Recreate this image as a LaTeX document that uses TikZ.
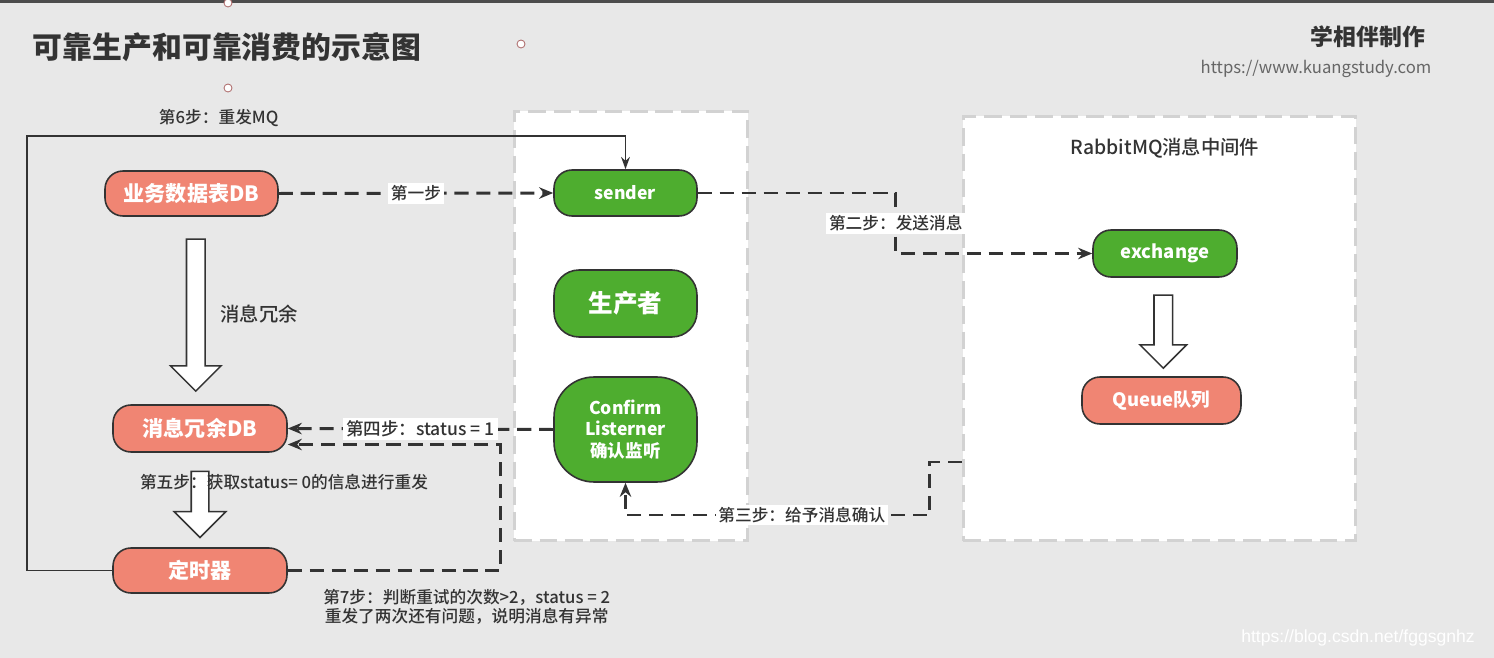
\documentclass[tikz,border=0pt]{standalone}
\usepackage{fontspec}
\setmainfont{Noto Sans CJK SC}
\newfontfamily\medfont{Noto Sans CJK SC Medium}
\newfontfamily\wmfont{Liberation Sans}
\usetikzlibrary{arrows.meta,positioning,shapes.arrows,calc}
\definecolor{bgc}{HTML}{E8E8E8}
\definecolor{salmon}{HTML}{F08573}
\definecolor{grn}{HTML}{4EAD2F}
\definecolor{edge}{HTML}{333333}
\definecolor{boxline}{HTML}{D2D2D2}
\definecolor{handle}{HTML}{B07070}

\begin{document}
\begin{tikzpicture}[x=0.02cm,y=-0.02cm,>=Stealth,
  nd/.style={draw=edge,line width=0.9pt,text=white,inner sep=0pt,align=center,
    rounded corners=0.36cm,font=\bfseries\fontsize{10}{12}\selectfont},
  pnode/.style={nd,fill=salmon},
  gnode/.style={nd,fill=grn},
  grp/.style={draw=boxline,fill=white,line width=1.7pt,dash pattern=on 10pt off 4.5pt},
  dline/.style={draw=edge,line width=1.7pt,dash pattern=on 8pt off 4.5pt,-{Stealth[length=8pt,width=6.5pt]}},
  sline/.style={draw=edge,line width=0.9pt,-{Stealth[length=7pt,width=5pt]}},
  lbl/.style={font=\medfont\fontsize{9.5}{11}\selectfont,text=edge,inner sep=1.5pt},
  fat/.style={single arrow,draw=edge,fill=white,line width=0.9pt,shape border rotate=270,inner sep=0.17cm}]
  % canvas
  \useasboundingbox (0,0) rectangle (1494,658);
  \fill[bgc] (0,0) rectangle (1494,658);
  \fill[black!70] (0,0) rectangle (1494,3);
  \foreach \hx/\hy in {228/3,521/44,228/88}
    \draw[handle,fill=white,line width=0.5pt] (\hx,\hy) circle (4);

  % headings
  \node[font=\bfseries\fontsize{17}{20}\selectfont,text=edge] (title) at (227,47) {可靠生产和可靠消费的示意图};
  \node[font=\bfseries\fontsize{13}{15}\selectfont,text=edge] (maker) at (1368,37) {学相伴制作};
  \node[font=\fontsize{9.5}{11}\selectfont,text=black!60] (site) at (1316,69) {https://www.kuangstudy.com};

  % groups
  \node[grp,minimum width=4.68cm,minimum height=8.6cm] (prodbox) at (631,326) {};
  \node[grp,minimum width=7.86cm,minimum height=8.5cm] (mqbox) at (1159.5,328.5) {};
  \node[font=\medfont\fontsize{11}{13}\selectfont,text=edge] (mqname) at (1165,148) {RabbitMQ消息中间件};

  % nodes
  \node[pnode,minimum width=3.46cm,minimum height=0.9cm,font=\bfseries\fontsize{12}{14}\selectfont] (bizdb) at (191.5,193.5) {业务数据表DB};
  \node[pnode,minimum width=3.48cm,minimum height=0.94cm,font=\bfseries\fontsize{12}{14}\selectfont] (redundb) at (200,428.5) {消息冗余DB};
  \node[pnode,minimum width=3.48cm,minimum height=0.9cm,font=\bfseries\fontsize{12}{14}\selectfont] (timer) at (200,570.5) {定时器};
  \node[gnode,minimum width=2.86cm,minimum height=0.92cm] (sender) at (625.5,193) {sender};
  \node[gnode,minimum width=2.86cm,minimum height=1.34cm,rounded corners=0.5cm,font=\bfseries\fontsize{14}{16}\selectfont] (producer) at (625.5,303.5) {生产者};
  \node[gnode,minimum width=2.86cm,minimum height=2.1cm,rounded corners=0.8cm,font=\bfseries\fontsize{10}{12.2}\selectfont] (confirm) at (625.5,429.5) {Confirm\\Listerner\\确认监听};
  \node[gnode,minimum width=2.88cm,minimum height=0.94cm,font=\bfseries\fontsize{10.5}{12}\selectfont] (exchange) at (1165,253.5) {exchange};
  \node[pnode,minimum width=3.18cm,minimum height=0.94cm,font=\bfseries\fontsize{10.5}{12}\selectfont] (queue) at (1161.5,400.5) {Queue队列};

  % block arrows
  \node[fat,minimum height=3.04cm,minimum width=1cm,single arrow head extend=0.32cm] (fat1) at ($(bizdb.south)!0.5!(redundb.north)$) {};
  \node[fat,minimum height=1.32cm,minimum width=1cm,single arrow head extend=0.34cm,inner sep=0.16cm] (fat2) at ($(redundb.south)!0.5!(timer.north)$) {};
  \node[fat,minimum height=1.46cm,minimum width=0.9cm,single arrow head extend=0.28cm] (fat3) at ($(exchange.south)!0.5!(queue.north)$) {};
  \node[font=\medfont\fontsize{11}{13}\selectfont,text=edge] (redlabel) at (259,314) {消息冗余};
  \node[lbl] (step5) at (284,482) {第五步：获取status= 0的信息进行重发};

  % connectors
  \draw[sline] (timer.west) -- ++(-85,0) |- node[lbl,pos=0.66,above=0.12cm]{第6步：重发MQ} ($(sender.north)+(0,-33)$) -- (sender.north);
  \draw[dline] (bizdb.east) -- node[lbl,fill=white]{第一步} (sender.west);
  \draw[dline] (sender.east) -- ++(198,0) |- node[lbl,fill=white,pos=0.25]{第二步：发送消息} (exchange.west);
  \draw[dline] ($(mqbox.west)+(0,133.5)$) -- ++(-32,0) -- ++(0,53) -| node[lbl,fill=white,pos=0.21]{第三步：给予消息确认} (confirm.south);
  \draw[dline] (confirm.west) -- node[lbl,fill=white,font=\medfont\fontsize{10}{12}\selectfont]{第四步：status = 1} (redundb.east);
  \draw[dline] (timer.east) -- node[lbl,pos=0.84,below=0.3cm,align=center,font=\medfont\fontsize{9.5}{10.5}\selectfont]{第7步：判断重试的次数>2，status = 2\\重发了两次还有问题，说明消息有异常} ++(213,0) |- ($(redundb.east)+(0,16)$);

  % watermark
  \node[font=\wmfont\fontsize{10}{12}\selectfont,text=white] (wm) at (1358,638) {https://blog.csdn.net/fggsgnhz};
\end{tikzpicture}
\end{document}
